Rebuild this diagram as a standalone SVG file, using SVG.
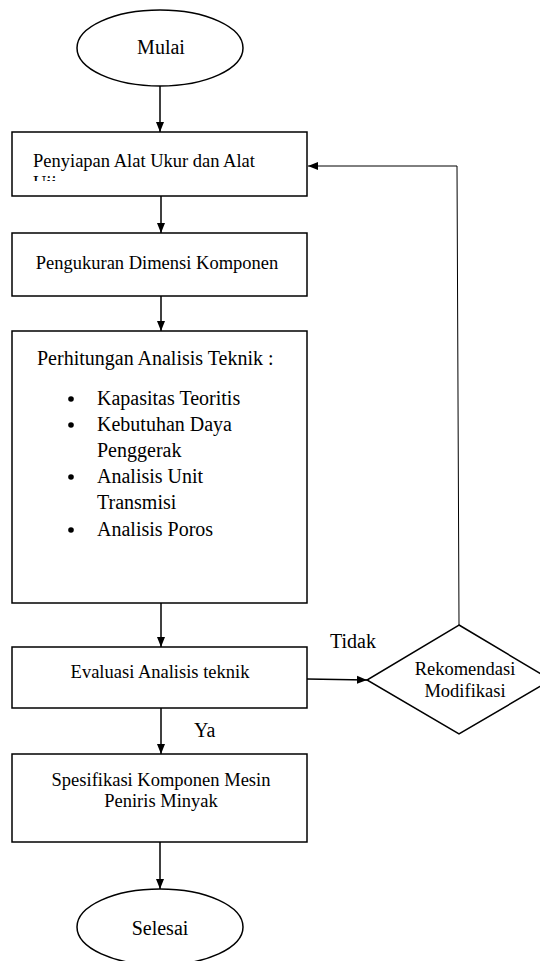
<svg xmlns="http://www.w3.org/2000/svg" width="540" height="961" viewBox="0 0 540 961">
<style>
.shape{fill:#fff;stroke:#000;stroke-width:1.5}
.t{font-family:"Liberation Serif","Times New Roman",serif;font-size:18.5px;fill:#000}
.tl{font-family:"Liberation Serif","Times New Roman",serif;font-size:20px;fill:#000}
.c{stroke:#000;stroke-width:1.5;fill:none}
.thin{stroke:#000;stroke-width:1;fill:none}
</style>
<defs>
<marker id="ah" viewBox="0 0 10 10" refX="10" refY="5" markerWidth="10" markerHeight="10" markerUnits="userSpaceOnUse" orient="auto">
<path d="M0,1 L10,5 L0,9 z" fill="#000"/>
</marker>
<clipPath id="clip1"><rect x="14" y="134" width="292" height="47"/></clipPath>
</defs>
<g id="connectors">
<line class="c" x1="160" y1="86" x2="160" y2="132" marker-end="url(#ah)"/>
<line class="c" x1="161" y1="196" x2="161" y2="233" marker-end="url(#ah)"/>
<line class="c" x1="161" y1="296" x2="161" y2="331" marker-end="url(#ah)"/>
<line class="c" x1="161" y1="603" x2="161" y2="647" marker-end="url(#ah)"/>
<line class="c" x1="161" y1="708" x2="161" y2="754" marker-end="url(#ah)"/>
<line class="c" x1="160" y1="842" x2="160" y2="889" marker-end="url(#ah)"/>
<line class="c" x1="307" y1="679" x2="367" y2="680" marker-end="url(#ah)"/>
<polyline class="thin" points="459,625 457,166 308,166" marker-end="url(#ah)"/>
<text class="tl" x="330" y="648">Tidak</text>
<text class="tl" x="194" y="737">Ya</text>
</g>
<g id="mulai">
<ellipse class="shape" cx="160" cy="48" rx="83" ry="38"/>
<text class="tl" x="161" y="54" text-anchor="middle">Mulai</text>
</g>
<g id="penyiapan">
<rect class="shape" x="12" y="132" width="295" height="64"/>
<g clip-path="url(#clip1)">
<text class="t" x="33" y="167">Penyiapan Alat Ukur dan Alat</text>
<text class="t" x="33" y="189">Uji</text>
</g>
</g>
<g id="pengukuran">
<rect class="shape" x="12" y="233" width="295" height="63"/>
<text class="t" x="157" y="269" text-anchor="middle">Pengukuran Dimensi Komponen</text>
</g>
<g id="perhitungan">
<rect class="shape" x="12" y="331" width="295" height="272"/>
<text class="tl" x="37" y="365">Perhitungan Analisis Teknik :</text>
<circle cx="71" cy="399" r="2.8"/>
<circle cx="71" cy="425" r="2.8"/>
<circle cx="71" cy="477" r="2.8"/>
<circle cx="71" cy="530" r="2.8"/>
<text class="tl" x="97" y="405">Kapasitas Teoritis</text>
<text class="tl" x="97" y="431">Kebutuhan Daya</text>
<text class="tl" x="97" y="457">Penggerak</text>
<text class="tl" x="97" y="483">Analisis Unit</text>
<text class="tl" x="97" y="509">Transmisi</text>
<text class="tl" x="97" y="536">Analisis Poros</text>
</g>
<g id="evaluasi">
<rect class="shape" x="12" y="647" width="295" height="61"/>
<text class="t" x="160" y="678" text-anchor="middle">Evaluasi Analisis teknik</text>
</g>
<g id="rekomendasi">
<polygon class="shape" points="459,625 551,680 459,734 367,680"/>
<text class="t" x="465" y="675" text-anchor="middle">Rekomendasi</text>
<text class="t" x="465" y="697" text-anchor="middle">Modifikasi</text>
</g>
<g id="spesifikasi">
<rect class="shape" x="12" y="754" width="295" height="88"/>
<text class="t" x="161" y="786" text-anchor="middle">Spesifikasi Komponen Mesin</text>
<text class="t" x="161" y="807" text-anchor="middle">Peniris Minyak</text>
</g>
<g id="selesai">
<ellipse class="shape" cx="160" cy="927" rx="83" ry="38"/>
<text class="tl" x="160" y="935" text-anchor="middle">Selesai</text>
</g>
</svg>
